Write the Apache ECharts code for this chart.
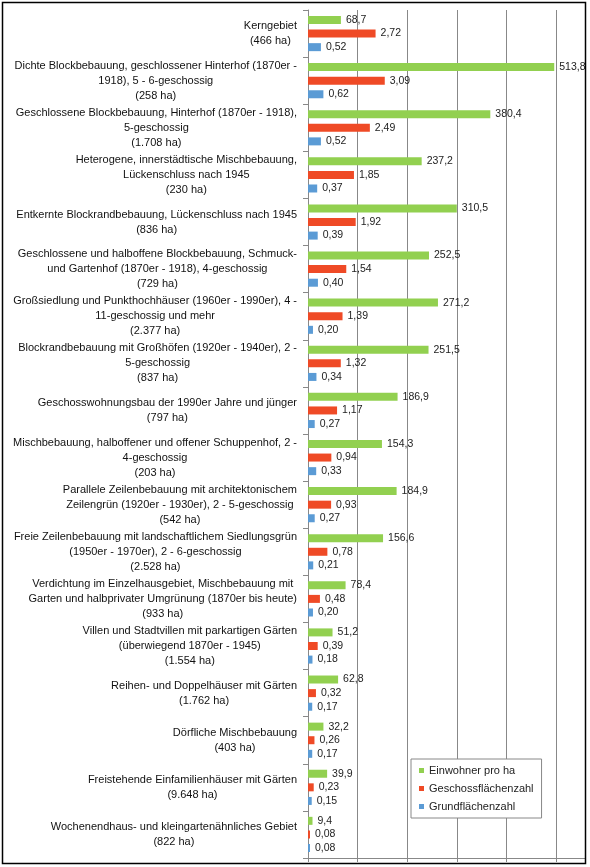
<!DOCTYPE html>
<html lang="de">
<head>
    <meta charset="UTF-8">
    <title>Einwohner und Dichtewerte nach Strukturtyp</title>
    <script src="https://cdn.jsdelivr.net/npm/echarts@6/dist/echarts.min.js"></script>
    <style>
        * { margin: 0; padding: 0; box-sizing: border-box; }
        body { background: #fff; }
        #chart { width: 590px; height: 867px; }
    </style>
</head>
<body>
    <div id="chart"></div>

    <script>
        // Strukturtypen (Kategorien), Zeilenumbrüche wie im Original
        const categories = [
            'Kerngebiet\n(466 ha)',
            'Dichte Blockbebauung, geschlossener Hinterhof (1870er -\n1918), 5 - 6-geschossig\n(258 ha)',
            'Geschlossene Blockbebauung, Hinterhof (1870er - 1918),\n5-geschossig\n(1.708 ha)',
            'Heterogene, innerstädtische Mischbebauung,\nLückenschluss nach 1945\n(230 ha)',
            'Entkernte Blockrandbebauung, Lückenschluss nach 1945\n(836 ha)',
            'Geschlossene und halboffene Blockbebauung, Schmuck-\nund Gartenhof (1870er - 1918), 4-geschossig\n(729 ha)',
            'Großsiedlung und Punkthochhäuser (1960er - 1990er), 4 -\n11-geschossig und mehr\n(2.377 ha)',
            'Blockrandbebauung mit Großhöfen (1920er - 1940er), 2 -\n5-geschossig\n(837 ha)',
            'Geschosswohnungsbau der 1990er Jahre und jünger\n(797 ha)',
            'Mischbebauung, halboffener und offener Schuppenhof, 2 -\n4-geschossig\n(203 ha)',
            'Parallele Zeilenbebauung mit architektonischem\nZeilengrün (1920er - 1930er), 2 - 5-geschossig\n(542 ha)',
            'Freie Zeilenbebauung mit landschaftlichem Siedlungsgrün\n(1950er - 1970er), 2 - 6-geschossig\n(2.528 ha)',
            'Verdichtung im Einzelhausgebiet, Mischbebauung mit\nGarten und halbprivater Umgrünung (1870er bis heute)\n(933 ha)',
            'Villen und Stadtvillen mit parkartigen Gärten\n(überwiegend 1870er - 1945)\n(1.554 ha)',
            'Reihen- und Doppelhäuser mit Gärten\n(1.762 ha)',
            'Dörfliche Mischbebauung\n(403 ha)',
            'Freistehende Einfamilienhäuser mit Gärten\n(9.648 ha)',
            'Wochenendhaus- und kleingartenähnliches Gebiet\n(822 ha)'
        ];

        const einwohner = [68.7, 513.8, 380.4, 237.2, 310.5, 252.5, 271.2, 251.5, 186.9,
                           154.3, 184.9, 156.6, 78.4, 51.2, 62.8, 32.2, 39.9, 9.4];
        const gfz = [2.72, 3.09, 2.49, 1.85, 1.92, 1.54, 1.39, 1.32, 1.17,
                     0.94, 0.93, 0.78, 0.48, 0.39, 0.32, 0.26, 0.23, 0.08];
        const grz = [0.52, 0.62, 0.52, 0.37, 0.39, 0.40, 0.20, 0.34, 0.27,
                     0.33, 0.27, 0.21, 0.20, 0.18, 0.17, 0.17, 0.15, 0.08];

        const seriesNames = ['Einwohner pro ha', 'Geschossflächenzahl', 'Grundflächenzahl'];
        const colors = ['#92D050', '#EF4A26', '#5B9BD5'];

        // Dichteachse (Gitterlinien alle 2), Einwohner auf eigener, verdeckter Achse
        const densityMax = 11.15;
        const einwohnerMax = 578;

        const font = '"Liberation Sans", Arial, sans-serif';

        function deNum(v, digits) {
            return v.toFixed(digits).replace('.', ',');
        }

        function makeSeries(name, data, axis, digits, color) {
            return {
                name: name,
                type: 'bar',
                xAxisIndex: axis,
                data: data,
                barWidth: 8,
                barGap: '70%',
                itemStyle: { color: color },
                label: {
                    show: true,
                    position: 'right',
                    distance: 5,
                    color: '#222',
                    fontFamily: font,
                    fontSize: 10.5,
                    formatter: p => deNum(p.value, digits)
                }
            };
        }

        const chart = echarts.init(document.getElementById('chart'));

        chart.setOption({
            animation: false,
            textStyle: { fontFamily: font },
            grid: { left: 308, right: 5, top: 10, bottom: 9 },
            graphic: [{
                type: 'rect',
                shape: { x: 2.5, y: 2.5, width: 583, height: 861 },
                style: { fill: 'none', stroke: '#000', lineWidth: 1.5 },
                z: 100
            }],
            legend: {
                orient: 'vertical',
                left: 411,
                top: 759,
                icon: 'rect',
                itemWidth: 5,
                itemHeight: 5,
                itemGap: 7,
                padding: [6, 8, 6, 8],
                borderColor: '#888',
                borderWidth: 1,
                backgroundColor: '#fff',
                textStyle: { fontFamily: font, fontSize: 11, color: '#222' },
                data: seriesNames
            },
            xAxis: [{
                type: 'value',
                min: 0,
                max: densityMax,
                interval: 2,
                position: 'bottom',
                axisLine: { show: true, lineStyle: { color: '#888' } },
                axisTick: { show: true, length: 4, lineStyle: { color: '#888' } },
                axisLabel: { show: false },
                splitLine: { show: true, lineStyle: { color: '#888' } }
            }, {
                type: 'value',
                min: 0,
                max: einwohnerMax,
                show: false,
                splitLine: { show: false }
            }],
            yAxis: {
                type: 'category',
                inverse: true,
                data: categories,
                axisLine: { show: true, lineStyle: { color: '#888' } },
                axisTick: { show: true, length: 5, lineStyle: { color: '#888' } },
                axisLabel: {
                    interval: 0,
                    margin: 11,
                    align: 'right',
                    color: '#111',
                    fontFamily: font,
                    fontSize: 11,
                    lineHeight: 15,
                    formatter: v => v.split('\n').map(l => '{c|' + l + '}').join('\n'),
                    rich: {
                        c: { align: 'center', fontFamily: font, fontSize: 11, lineHeight: 15, color: '#111' }
                    }
                }
            },
            series: [
                makeSeries(seriesNames[0], einwohner, 1, 1, colors[0]),
                makeSeries(seriesNames[1], gfz, 0, 2, colors[1]),
                makeSeries(seriesNames[2], grz, 0, 2, colors[2])
            ]
        });

        window.addEventListener('resize', () => chart.resize());
    </script>
</body>
</html>
